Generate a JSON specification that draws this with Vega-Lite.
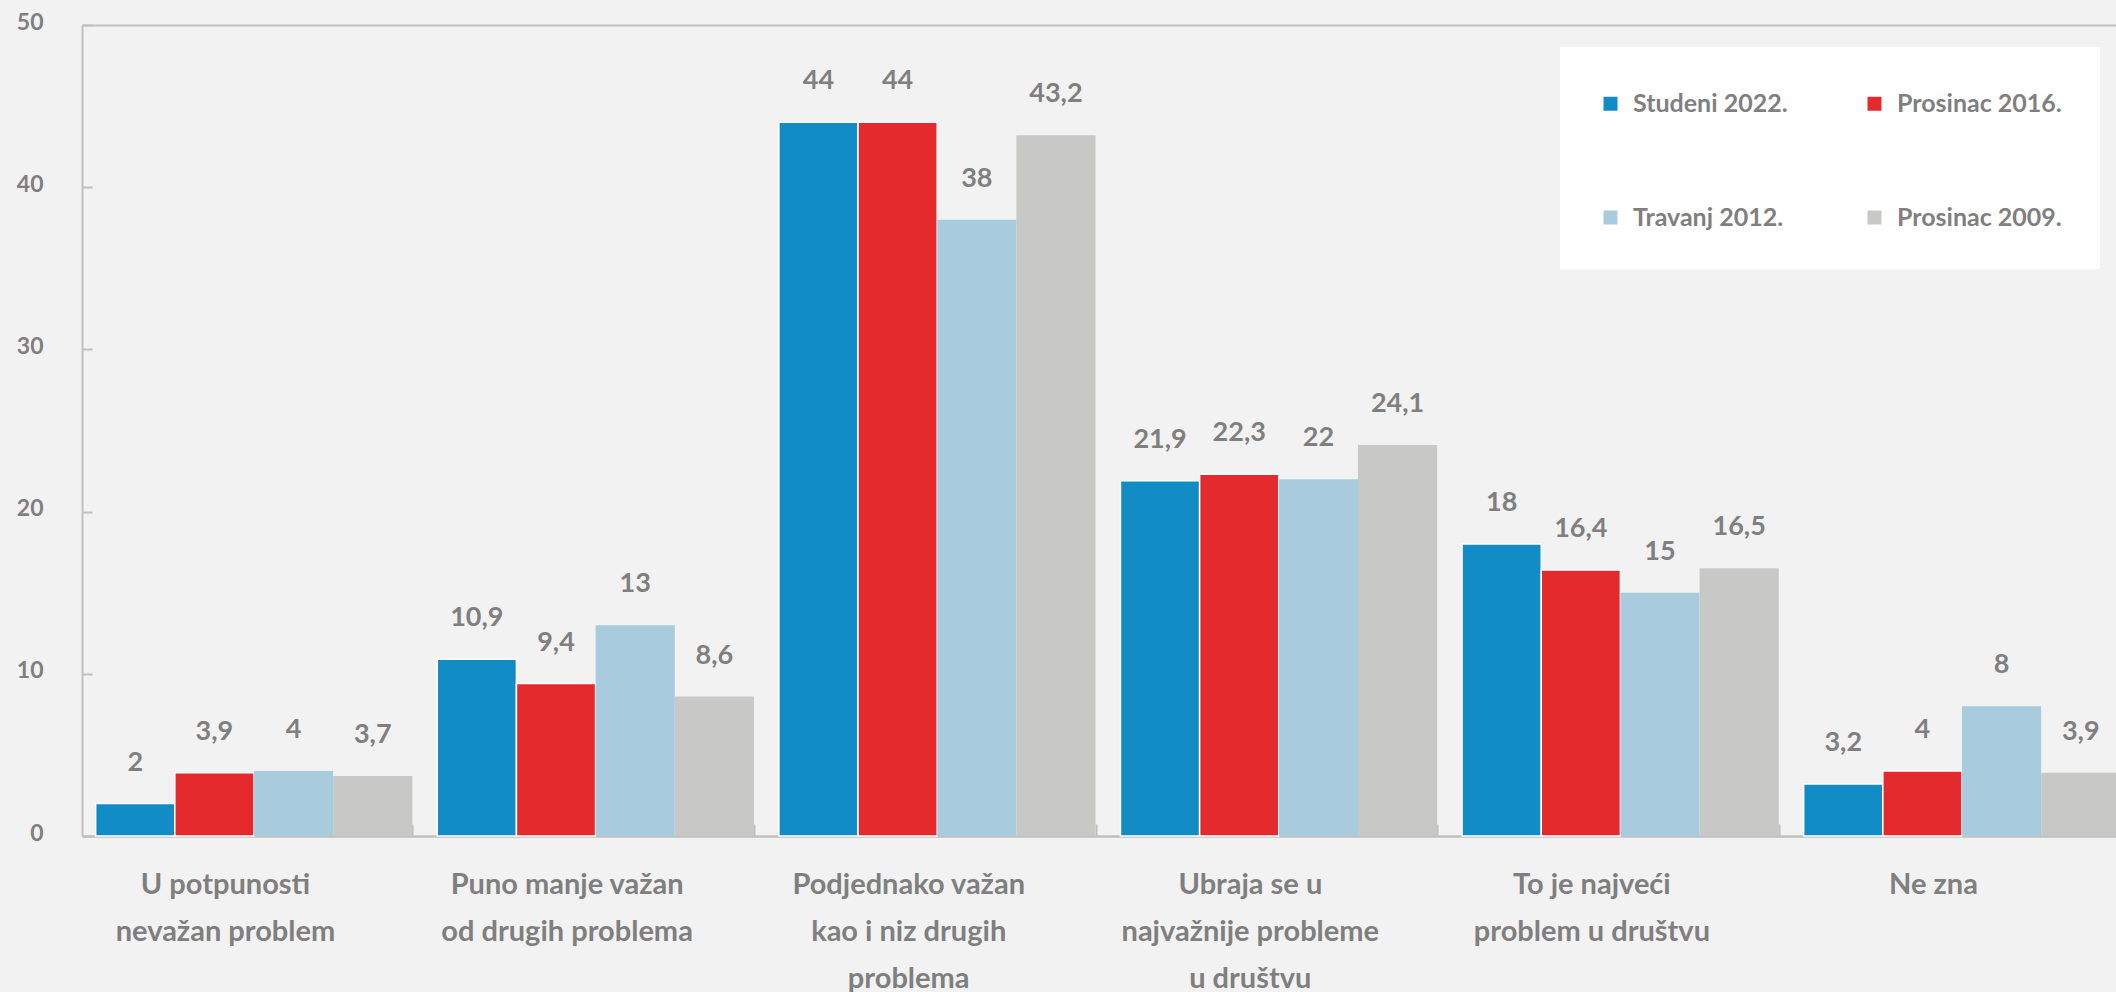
{
  "$schema": "https://vega.github.io/schema/vega-lite/v6.json",
  "width": 2034,
  "height": 811,
  "autosize": {"type": "none"},
  "padding": {"left": 82, "top": 25, "right": 0, "bottom": 156},
  "background": "#f2f2f2",
  "config": {
    "view": {"stroke": null},
    "font": "Lato",
    "locale": {"number": {"decimal": ",", "thousands": ".", "grouping": [3], "currency": ["", " €"]}}
  },
  "data": {
    "values": [
      {"cat": "U potpunosti|nevažan problem", "series": "Studeni 2022.", "v": 2},
      {"cat": "U potpunosti|nevažan problem", "series": "Prosinac 2016.", "v": 3.9},
      {"cat": "U potpunosti|nevažan problem", "series": "Travanj 2012.", "v": 4},
      {"cat": "U potpunosti|nevažan problem", "series": "Prosinac 2009.", "v": 3.7},
      {"cat": "Puno manje važan|od drugih problema", "series": "Studeni 2022.", "v": 10.9},
      {"cat": "Puno manje važan|od drugih problema", "series": "Prosinac 2016.", "v": 9.4},
      {"cat": "Puno manje važan|od drugih problema", "series": "Travanj 2012.", "v": 13},
      {"cat": "Puno manje važan|od drugih problema", "series": "Prosinac 2009.", "v": 8.6},
      {"cat": "Podjednako važan|kao i niz drugih|problema", "series": "Studeni 2022.", "v": 44},
      {"cat": "Podjednako važan|kao i niz drugih|problema", "series": "Prosinac 2016.", "v": 44},
      {"cat": "Podjednako važan|kao i niz drugih|problema", "series": "Travanj 2012.", "v": 38},
      {"cat": "Podjednako važan|kao i niz drugih|problema", "series": "Prosinac 2009.", "v": 43.2},
      {"cat": "Ubraja se u|najvažnije probleme|u društvu", "series": "Studeni 2022.", "v": 21.9},
      {"cat": "Ubraja se u|najvažnije probleme|u društvu", "series": "Prosinac 2016.", "v": 22.3},
      {"cat": "Ubraja se u|najvažnije probleme|u društvu", "series": "Travanj 2012.", "v": 22},
      {"cat": "Ubraja se u|najvažnije probleme|u društvu", "series": "Prosinac 2009.", "v": 24.1},
      {"cat": "To je najveći|problem u društvu", "series": "Studeni 2022.", "v": 18},
      {"cat": "To je najveći|problem u društvu", "series": "Prosinac 2016.", "v": 16.4},
      {"cat": "To je najveći|problem u društvu", "series": "Travanj 2012.", "v": 15},
      {"cat": "To je najveći|problem u društvu", "series": "Prosinac 2009.", "v": 16.5},
      {"cat": "Ne zna", "series": "Studeni 2022.", "v": 3.2},
      {"cat": "Ne zna", "series": "Prosinac 2016.", "v": 4},
      {"cat": "Ne zna", "series": "Travanj 2012.", "v": 8},
      {"cat": "Ne zna", "series": "Prosinac 2009.", "v": 3.9}
    ]
  },
  "encoding": {
    "x": {
      "field": "cat",
      "type": "nominal",
      "sort": null,
      "scale": {"range": [0, 2052], "paddingInner": 0.073, "paddingOuter": 0.04},
      "axis": {
        "title": null,
        "labelAngle": 0,
        "labelExpr": "split(datum.label, '|')",
        "labelBaseline": "alphabetic",
        "labelPadding": 69,
        "labelLineHeight": 47,
        "labelFontSize": 29,
        "labelFontWeight": "bold",
        "labelFont": "Lato",
        "labelColor": "#7f7f7f",
        "labelOffset": -29,
        "labelLimit": 500,
        "labelOverlap": false,
        "tickBand": "extent",
        "tickSize": -12,
        "tickColor": "#bfbfbf",
        "tickWidth": 2,
        "domainColor": "#bfbfbf",
        "domainWidth": 2.5
      }
    },
    "xOffset": {
      "field": "series",
      "type": "nominal",
      "sort": ["Studeni 2022.", "Prosinac 2016.", "Travanj 2012.", "Prosinac 2009."],
      "scale": {"paddingInner": 0, "paddingOuter": 0}
    },
    "y": {
      "field": "v",
      "type": "quantitative",
      "scale": {"domain": [0, 50], "nice": false},
      "axis": {
        "title": null,
        "values": [0, 10, 20, 30, 40, 50],
        "grid": true,
        "gridColor": "#bfbfbf",
        "gridWidth": 2,
        "gridOpacity": {"condition": {"test": "datum.value === 50", "value": 1}, "value": 0},
        "domainColor": "#bfbfbf",
        "domainWidth": 2,
        "tickColor": "#bfbfbf",
        "tickSize": -10,
        "tickWidth": 2,
        "labelPadding": 49,
        "labelFontSize": 23,
        "labelFontWeight": "bold",
        "labelFont": "Lato",
        "labelColor": "#7f7f7f",
        "labelOffset": -3
      }
    }
  },
  "layer": [
    {
      "mark": {"type": "bar", "strokeWidth": 1.5},
      "encoding": {
        "color": {
          "field": "series",
          "type": "nominal",
          "scale": {
            "domain": ["Studeni 2022.", "Travanj 2012.", "Prosinac 2016.", "Prosinac 2009."],
            "range": ["#128cc4", "#a8cbde", "#e52a2d", "#c8c8c6"]
          },
          "legend": {
            "orient": "none",
            "legendX": 1478,
            "legendY": 22,
            "columns": 2,
            "fillColor": "#ffffff",
            "padding": 38,
            "symbolType": "square",
            "symbolSize": 196,
            "symbolStrokeWidth": 0,
            "labelFontSize": 25,
            "labelFontWeight": "bold",
            "labelFont": "Lato",
            "labelColor": "#7f7f7f",
            "labelOffset": 10,
            "labelLimit": 400,
            "rowPadding": 88,
            "columnPadding": 74,
            "title": " ",
            "titleFontSize": 1,
            "titlePadding": 5
          }
        },
        "stroke": {
          "condition": {"test": "datum.series === 'Studeni 2022.' || datum.series === 'Prosinac 2016.'", "value": "#ffffff"},
          "value": null
        }
      }
    },
    {
      "mark": {"type": "text", "dy": -33, "baseline": "alphabetic", "fontSize": 27, "fontWeight": "bold", "font": "Lato", "color": "#7f7f7f"},
      "encoding": {
        "text": {"field": "v", "type": "quantitative", "format": ".1~f"}
      }
    }
  ]
}
